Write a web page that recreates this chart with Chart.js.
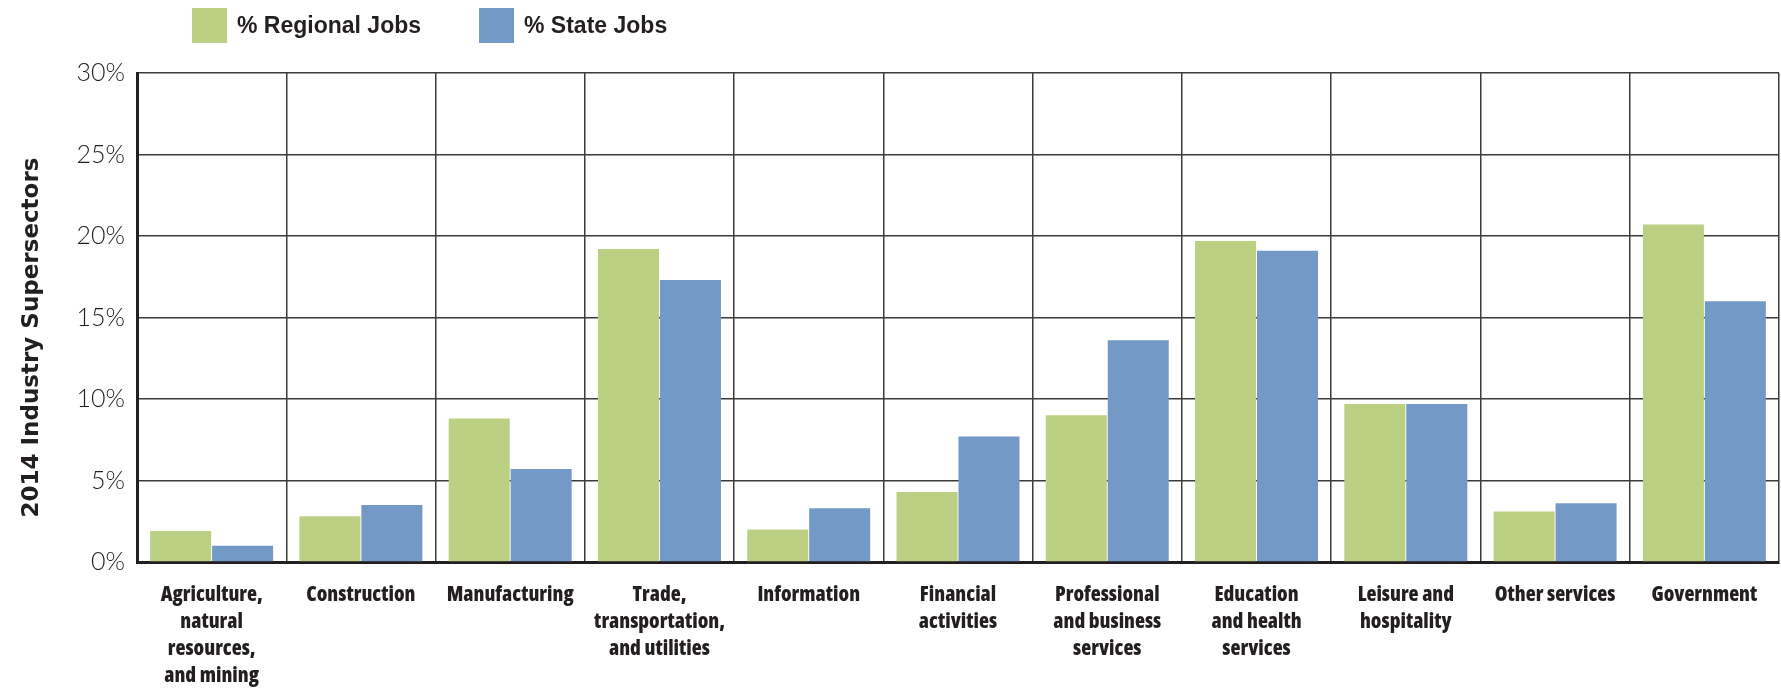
<!DOCTYPE html>
<html>
<head>
<meta charset="utf-8">
<title>2014 Industry Supersectors</title>
<script src="https://cdn.jsdelivr.net/npm/chart.js@4.4.1/dist/chart.umd.min.js"></script>
<style>
  html, body { margin: 0; padding: 0; background: #fff; }
  #wrap { width: 1781px; height: 689px; position: relative; }
</style>
</head>
<body>
<div id="wrap"><canvas id="jobs-chart"></canvas></div>
<script>
// Industry supersectors (multi-line tick labels)
const sectors = [
  ['Agriculture,', 'natural', 'resources,', 'and mining'],
  ['Construction'],
  ['Manufacturing'],
  ['Trade,', 'transportation,', 'and utilities'],
  ['Information'],
  ['Financial', 'activities'],
  ['Professional', 'and business', 'services'],
  ['Education', 'and health', 'services'],
  ['Leisure and', 'hospitality'],
  ['Other services'],
  ['Government']
];

// Share of jobs, percent
const regionalJobs = [1.9, 2.8, 8.8, 19.2, 2.0, 4.3, 9.0, 19.7, 9.7, 3.1, 20.7];
const stateJobs = [1.0, 3.5, 5.7, 17.3, 3.3, 7.7, 13.6, 19.1, 9.7, 3.6, 16.0];

const yTicks = [0, 5, 10, 15, 20, 25, 30];

const GREEN = '#BBD083';
const BLUE = '#7399C6';
const INK = '#231f20';

// pick a narrow heavy face for the category labels (the original uses a condensed font).
// Chart.js only accepts normal/italic as font style, so the stretch keyword rides along in weight.
function pickLabelFont() {
  const c = document.createElement('canvas').getContext('2d');
  const probe = 'Manufacturing';
  const w = f => { c.font = f; return c.measureText(probe).width; };
  const candidates = [
    { weight: 'bold', family: '"Liberation Sans Narrow"' },
    { weight: 'condensed 800', family: '"Open Sans"' },
    { weight: 'condensed bold', family: 'Roboto' },
    { weight: 'condensed bold', family: '"DejaVu Sans"' },
    { weight: 'condensed bold', family: '"Noto Sans"' }
  ];
  const mono = w('bold 22px monospace');
  for (const cand of candidates) {
    const narrow = w(cand.weight + ' 22px ' + cand.family + ', monospace');
    const plain = w('bold 22px ' + cand.family + ', monospace');
    const installed = Math.abs(plain - mono) > 0.5;
    const condensed = cand.weight !== 'bold' ? narrow < plain * 0.93 : installed;
    if (installed && condensed) {
      const size = Math.min(25, 22 * 127 / narrow);
      return { weight: cand.weight, family: cand.family, size: Math.round(size * 10) / 10 };
    }
  }
  const base = w('bold 22px "Liberation Sans", Arial, sans-serif');
  return { weight: 'bold', family: '"Liberation Sans", Arial, sans-serif', size: Math.round(22 * 127 / base * 10) / 10 };
}
const labelFont = pickLabelFont();

// legend drawn top-left, like the original layout
const topLegend = {
  id: 'topLegend',
  afterDraw(chart) {
    const ctx = chart.ctx;
    const box = 35;
    let x = 192;
    const y = 8;
    ctx.save();
    ctx.font = 'bold 23px "Liberation Sans", Arial, sans-serif';
    ctx.textBaseline = 'middle';
    ctx.textAlign = 'left';
    chart.data.datasets.forEach(ds => {
      ctx.fillStyle = ds.backgroundColor;
      ctx.fillRect(x, y, box, box);
      ctx.fillStyle = INK;
      ctx.fillText(ds.label, x + box + 10, y + box / 2 + 1);
      x += box + 10 + ctx.measureText(ds.label).width + 58;
    });
    ctx.restore();
  }
};

const ctx = document.getElementById('jobs-chart').getContext('2d');

new Chart(ctx, {
  type: 'bar',
  data: {
    labels: sectors,
    datasets: [{
      label: '% Regional Jobs',
      data: regionalJobs,
      backgroundColor: GREEN,
      categoryPercentage: 0.83,
      barPercentage: 0.985
    }, {
      label: '% State Jobs',
      data: stateJobs,
      backgroundColor: BLUE,
      categoryPercentage: 0.83,
      barPercentage: 0.985
    }]
  },
  options: {
    responsive: true,
    maintainAspectRatio: false,
    animation: false,
    layout: {
      padding: { top: 73, right: 2, bottom: 0, left: 0 }
    },
    plugins: {
      legend: { display: false },
      tooltip: { enabled: false }
    },
    scales: {
      x: {
        offset: true,
        grid: {
          offset: true,
          color: '#3b3b3b',
          lineWidth: 1.5,
          drawTicks: false
        },
        border: { color: INK, width: 3 },
        ticks: {
          color: INK,
          padding: 20,
          maxRotation: 0,
          autoSkip: false,
          font: { family: labelFont.family, weight: labelFont.weight, size: labelFont.size, lineHeight: '27px' }
        },
        afterFit: scale => { scale.height = 127; }
      },
      y: {
        min: 0,
        max: 30,
        afterBuildTicks: scale => { scale.ticks = yTicks.map(v => ({ value: v })); },
        grid: {
          color: '#3b3b3b',
          lineWidth: 1.5,
          drawTicks: false
        },
        border: { color: INK, width: 3 },
        ticks: {
          color: INK,
          padding: 12,
          font: { family: 'Lato, "Open Sans", sans-serif', weight: '300', size: 25 },
          callback: v => v + '%'
        },
        title: {
          display: true,
          // trailing no-break spaces nudge the centred title down, as in the original
          text: '2014 Industry Supersectors\u00a0\u00a0\u00a0\u00a0\u00a0',
          color: INK,
          padding: { top: 18, bottom: 0 },
          font: { family: '"DejaVu Sans", sans-serif', weight: 'bold', size: 23 }
        },
        afterFit: scale => { scale.width = 137; }
      }
    }
  },
  plugins: [topLegend]
});
</script>
</body>
</html>
